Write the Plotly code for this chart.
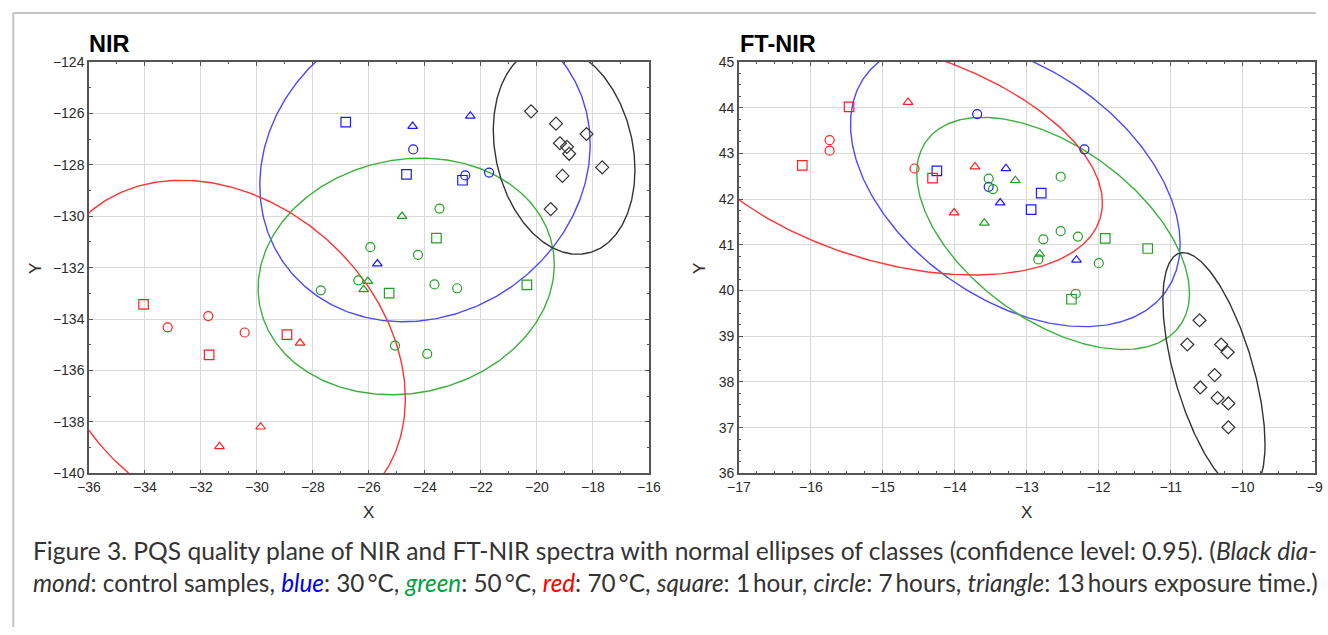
import numpy as np
import plotly.graph_objects as go

# ---------------- DATA ----------------
nir_x = [-26.83, -24.66, -22.66, -24.42, -22.56, -21.71, -24.44, -22.38, -25.70,
         -23.59, -25.28, -20.36,
         -23.48, -25.95, -24.25, -27.72, -26.38, -23.66, -22.85, -25.07, -23.92,
         -24.82, -26.04, -26.19,
         -34.05, -31.71, -28.93, -33.19, -31.74, -30.44, -28.46, -29.87, -31.34,
         -20.21, -19.32, -19.18, -18.93, -18.85, -18.23, -17.67, -19.09, -19.51]
nir_y = [-126.34, -128.37, -128.60, -127.40, -128.41, -128.30, -126.50, -126.10, -131.85,
         -130.85, -132.99, -132.67,
         -129.70, -131.20, -131.50, -132.88, -132.49, -132.65, -132.80, -135.03, -135.35,
         -130.00, -132.53, -132.85,
         -133.43, -135.39, -134.60, -134.32, -133.88, -134.52, -134.93, -138.19, -138.95,
         -125.92, -126.40, -127.16, -127.30, -127.57, -126.80, -128.10, -128.43, -129.72]
nir_class = (["30"] * 9 + ["50"] * 15 + ["70"] * 9 + ["ctrl"] * 9)
nir_time = (["1h"] * 3 + ["7h"] * 3 + ["13h"] * 3 +
            ["1h"] * 3 + ["7h"] * 9 + ["13h"] * 3 +
            ["1h"] * 3 + ["7h"] * 3 + ["13h"] * 3 +
            ["ctrl"] * 9)

ft_x = [-14.25, -12.80, -12.94, -13.69, -12.20, -13.53, -13.29, -13.37, -12.31,
        -11.91, -11.32, -12.38,
        -13.53, -13.47, -12.53, -12.53, -12.29, -12.77, -12.84, -12.00, -12.32,
        -13.16, -13.59, -12.82,
        -15.47, -16.12, -14.31, -15.74, -15.74, -14.56, -14.65, -13.72, -14.01,
        -10.60, -10.77, -10.30, -10.21, -10.39, -10.59, -10.35, -10.20, -10.20]
ft_y = [42.62, 42.13, 41.77, 43.86, 43.09, 42.27, 42.67, 41.92, 40.67,
        41.14, 40.92, 39.81,
        42.45, 42.22, 42.49, 41.30, 41.18, 41.12, 40.68, 40.60, 39.93,
        42.41, 41.48, 40.80,
        44.02, 42.74, 42.46, 43.29, 43.06, 42.67, 44.12, 42.71, 41.70,
        39.35, 38.82, 38.82, 38.65, 38.15, 37.88, 37.65, 37.53, 37.01]
ft_class = nir_class
ft_time = nir_time

# Normal ellipses: centre x, centre y, x half-extent, y half-extent, correlation
ell_classes = ["30", "50", "70", "ctrl"]
nir_ell_cx = [-24.00, -24.67, -31.10, -19.03]
nir_ell_cy = [-128.00, -132.34, -135.40, -127.43]
nir_ell_sx = [5.90, 5.29, 6.40, 2.53]
nir_ell_sy = [6.10, 4.60, 6.80, 4.05]
nir_ell_r = [0.13, 0.10, -0.25, -0.19]

ft_ell_cx = [-13.16, -12.635, -14.92, -10.40]
ft_ell_cy = [42.33, 41.25, 42.97, 38.21]
ft_ell_sx = [2.29, 1.895, 2.97, 0.71]
ft_ell_sy = [3.12, 2.54, 2.63, 2.62]
ft_ell_r = [-0.42, -0.516, -0.40, -0.60]

nir_xticks = list(range(-36, -15, 2))
nir_yticks = list(range(-140, -123, 2))
ft_xticks = list(range(-17, -8, 1))
ft_yticks = list(range(36, 46, 1))

# ---------------- STYLE / LAYOUT ----------------
W, H = 1328, 635
# the photographed page is shown slightly inset; map target pixel -> paper fraction
OX, SX, OY, SY = 12.0, 0.982, 8.0, 0.975


def pxx(X):
    return (X - OX) / SX / W


def pxy(Y):
    return 1 - (Y - OY) / SY / H


marker_col = {"30": "#1a1aff", "50": "#20a020", "70": "#ff1f1f", "ctrl": "#333333"}
line_col = {"30": "#4a4aff", "50": "#3cb03c", "70": "#ff3333", "ctrl": "#333333"}
symbols = {"1h": "square-open", "7h": "circle-open", "13h": "triangle-up-open",
           "ctrl": "diamond-open"}
msize = {"1h": 9.5, "7h": 9, "13h": 8.5, "ctrl": 10}

fig = go.Figure()


def add_panel(xs, ys, cls, tms, ecx, ecy, esx, esy, er, xa, ya):
    t = np.linspace(0, 2 * np.pi, 400)
    for i, c in enumerate(ell_classes):
        ex = ecx[i] + esx[i] * np.cos(t)
        ey = ecy[i] + esy[i] * (er[i] * np.cos(t) + np.sqrt(1 - er[i] ** 2) * np.sin(t))
        fig.add_trace(go.Scatter(x=ex, y=ey, mode="lines", xaxis=xa, yaxis=ya,
                                 line=dict(color=line_col[c], width=1.4),
                                 hoverinfo="skip", showlegend=False))
    for c in ell_classes:
        for tm in ["1h", "7h", "13h", "ctrl"]:
            px = [x for x, cc, tt in zip(xs, cls, tms) if cc == c and tt == tm]
            py = [y for y, cc, tt in zip(ys, cls, tms) if cc == c and tt == tm]
            if not px:
                continue
            fig.add_trace(go.Scatter(x=px, y=py, mode="markers", xaxis=xa, yaxis=ya,
                                     marker=dict(symbol=symbols[tm], size=msize[tm],
                                                 color=marker_col[c],
                                                 line=dict(width=1.2, color=marker_col[c])),
                                     showlegend=False))


add_panel(nir_x, nir_y, nir_class, nir_time, nir_ell_cx, nir_ell_cy, nir_ell_sx,
          nir_ell_sy, nir_ell_r, "x", "y")
add_panel(ft_x, ft_y, ft_class, ft_time, ft_ell_cx, ft_ell_cy, ft_ell_sx,
          ft_ell_sy, ft_ell_r, "x2", "y2")

tickfont = dict(family="Liberation Sans, Arial", size=14, color="#2a2a2a")
common = dict(showgrid=True, gridcolor="#dadada", gridwidth=1, zeroline=False,
              showline=True, linecolor="#555555", linewidth=1.5, mirror="ticks",
              ticks="inside", ticklen=4, tickcolor="#555555", tickwidth=1,
              tickfont=tickfont)

ytop = pxy(62)
ybot = pxy(473.5)

fig.update_layout(
    width=W, height=H, margin=dict(l=0, r=0, t=0, b=0),
    paper_bgcolor="white", plot_bgcolor="white", showlegend=False,
    xaxis=dict(domain=[pxx(89), pxx(649)], range=[-36, -16], tickvals=nir_xticks,
               minor=dict(dtick=1, ticks="inside", ticklen=2.5, tickcolor="#555555"),
               anchor="y", **common),
    yaxis=dict(domain=[ybot, ytop], range=[-140, -124], tickvals=nir_yticks,
               minor=dict(dtick=1, ticks="inside", ticklen=2.5, tickcolor="#555555"),
               anchor="x", **common),
    xaxis2=dict(domain=[pxx(739), min(pxx(1315), 0.999)], range=[-17, -9],
                tickvals=ft_xticks,
                minor=dict(dtick=0.25, ticks="inside", ticklen=2.5, tickcolor="#555555"),
                anchor="y2", **common),
    yaxis2=dict(domain=[ybot, ytop], range=[36, 45], tickvals=ft_yticks,
                minor=dict(dtick=0.25, ticks="inside", ticklen=2.5, tickcolor="#555555"),
                anchor="x2", **common),
)

# frame lines of the figure box
fig.add_shape(type="line", xref="paper", yref="paper", x0=0.001, x1=1.0,
              y0=pxy(13), y1=pxy(13), line=dict(color="#c4c4c4", width=2))
fig.add_shape(type="line", xref="paper", yref="paper", x0=0.001, x1=0.001,
              y0=0, y1=pxy(13), line=dict(color="#c4c4c4", width=2))


def ann(text, X, Y, size, xanchor="left", yanchor="middle", angle=0,
        family="Liberation Sans, Arial", color="#333333"):
    fig.add_annotation(text=text, x=pxx(X), y=pxy(Y), xref="paper", yref="paper",
                       showarrow=False, xanchor=xanchor, yanchor=yanchor,
                       textangle=angle, font=dict(family=family, size=size, color=color),
                       align="left")


ann("<b>NIR</b>", 87, 44, 23.5, color="#000000")
ann("<b>FT-NIR</b>", 738, 44, 23.5, color="#000000")
ann("X", 369, 513, 17, xanchor="center", color="#2a2a2a")
ann("X", 1027, 513, 17, xanchor="center", color="#2a2a2a")
ann("Y", 36, 268, 17, xanchor="center", angle=-90, color="#2a2a2a")
ann("Y", 700, 268, 17, xanchor="center", angle=-90, color="#2a2a2a")

cap1 = ("Figure 3. PQS quality plane of NIR and FT-NIR spectra with normal ellipses "
        "of classes (confidence level: 0.95). (<i>Black dia-</i>")
cap2 = ("<i>mond</i>: control samples, <i><span style='color:#0000ee'>blue</span></i>: "
        "30\u2009°C, <i><span style='color:#00a040'>green</span></i>: 50\u2009°C, "
        "<i><span style='color:#ff0000'>red</span></i>: 70\u2009°C, <i>square</i>: "
        "1\u2009hour, <i>circle</i>: 7\u2009hours, <i>triangle</i>: 13\u2009hours "
        "exposure time.)")
ann(cap1, 31, 551, 24.6, family="Lato", color="#333333")
ann(cap2, 31, 583, 24.3, family="Lato", color="#333333")

fig.write_html("out.html", config={"displayModeBar": False},
               post_script="document.body.style.margin='0';"
                           "document.body.style.overflow='hidden';")
